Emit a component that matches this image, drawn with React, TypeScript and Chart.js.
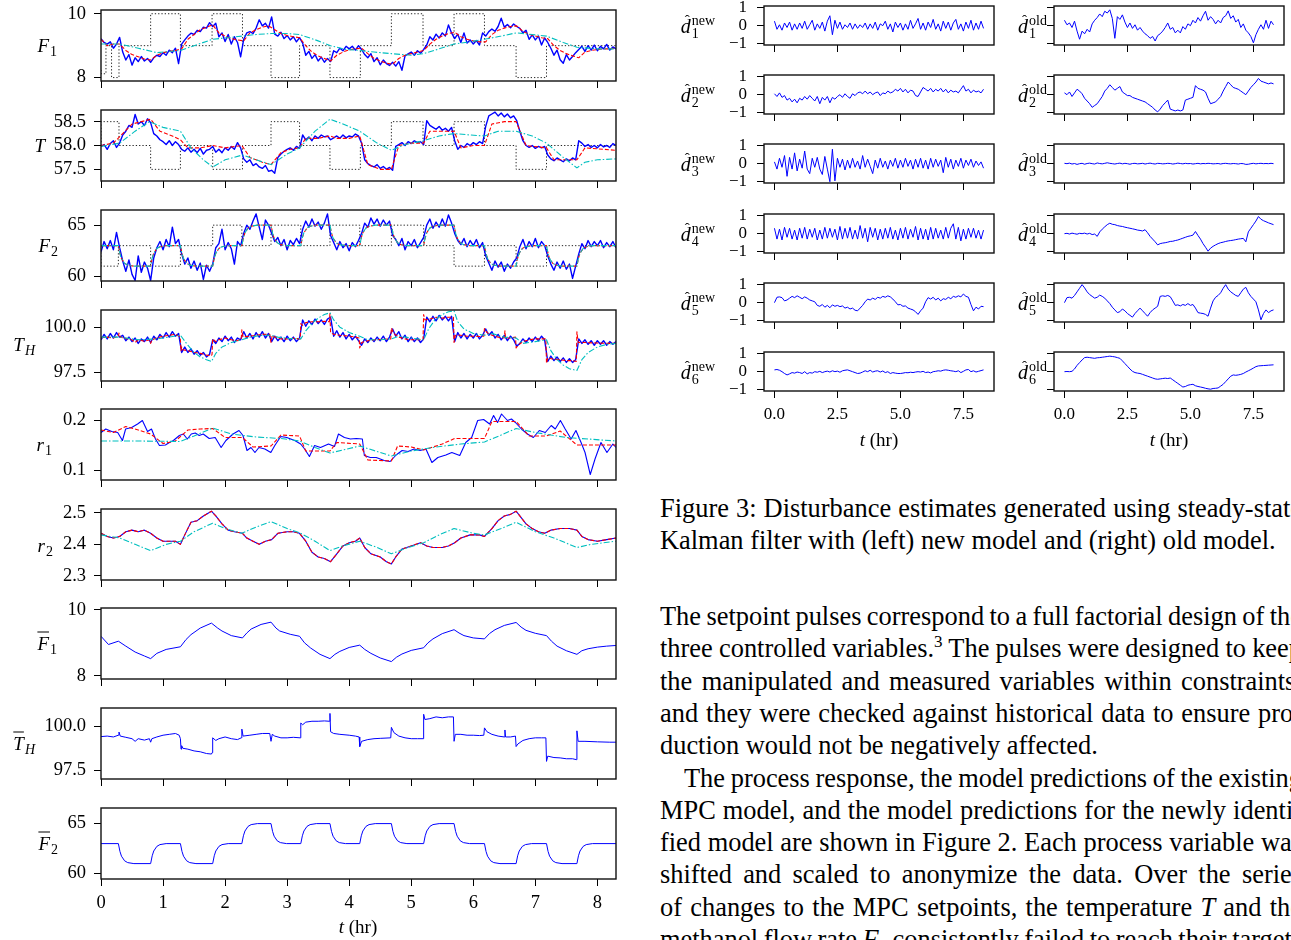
import React, { useEffect, useRef } from 'react';
import { Chart, registerables } from 'chart.js';
Chart.register(...registerables);

const SERIF = "'Liberation Serif', 'Times New Roman', serif";
const BLUE = '#0000ff';
const RED = '#ff0000';
const CYAN = '#00bfbf';

// sampling times (hours)
const T05 = Array.from({ length: 167 }, (_, i) => Math.round(i * 5) / 100);
const T10 = Array.from({ length: 84 }, (_, i) => Math.round(i * 10) / 100);

// ---------- left column data ----------
const F1_MEAS = [
  9.22,9.10,9.05,9.12,8.92,9.05,9.26,8.80,8.55,8.72,8.39,8.62,8.50,8.66,8.52,8.60,8.48,8.62,8.70,8.66,
  8.78,8.70,8.86,8.78,8.92,8.44,9.05,9.18,9.30,9.39,9.35,9.48,9.44,9.58,9.55,9.72,9.60,9.70,9.28,9.40,
  9.13,9.35,9.05,9.28,9.10,8.65,9.20,9.40,9.44,9.38,9.55,9.81,9.62,9.70,9.55,9.90,9.36,9.30,9.42,9.22,
  9.32,9.18,9.28,9.12,9.25,9.08,8.70,8.82,8.60,8.72,8.52,8.64,8.48,8.60,8.50,8.84,8.78,8.92,8.84,8.98,
  8.90,8.98,8.86,9.00,8.88,8.72,8.62,8.75,8.50,8.62,8.40,8.55,8.44,8.38,8.48,8.36,8.50,8.23,8.68,8.74,
  8.80,8.70,8.84,8.76,8.88,9.02,9.28,9.18,9.36,9.24,9.40,9.30,9.65,9.40,9.22,9.36,9.10,9.40,9.08,9.18,
  9.05,9.16,9.02,9.40,9.30,9.44,9.52,9.45,9.60,9.86,9.58,9.66,9.56,9.68,9.60,9.54,9.40,9.48,9.20,9.34,
  9.18,9.30,9.02,9.24,9.10,8.92,8.70,8.86,8.56,8.45,8.72,8.55,8.66,8.78,8.88,8.98,8.82,9.00,8.86,9.02,
  8.84,8.98,8.90,9.04,8.86,8.96,8.90,
];
const F1_NEW = [
  9.2,9.0,9.05,9.05,8.85,8.72,8.65,8.58,8.55,8.7,
  8.78,8.82,8.85,8.9,9.2,9.35,9.5,9.58,9.65,9.4,
  9.3,9.22,9.18,9.15,9.4,9.5,9.58,9.62,9.5,9.38,
  9.32,9.28,9.25,9.0,8.8,8.68,8.6,8.52,8.7,8.8,
  8.87,8.9,8.92,8.75,8.6,8.52,8.45,8.42,8.6,8.7,
  8.75,8.8,8.85,9.05,9.2,9.3,9.38,9.42,9.28,9.2,
  9.15,9.12,9.12,9.35,9.48,9.55,9.6,9.62,9.45,9.35,
  9.3,9.25,9.22,9.0,8.85,8.75,8.68,8.62,8.8,8.85,
  8.88,8.9,8.9,8.92,
];
const F1_OLD = [[0,9.05],[0.3,9.05],[0.6,8.92],[0.9,8.78],[1.28,8.85],[1.5,9.0],[1.8,9.2],[2.05,9.25],[2.28,9.3],[2.5,9.35],[2.74,9.38],[3.0,9.38],[3.2,9.35],[3.5,9.15],[3.7,9.0],[3.95,8.88],[4.17,8.85],[4.4,8.8],[4.68,8.75],[5.0,8.7],[5.2,8.75],[5.45,8.9],[5.69,9.05],[5.95,9.12],[6.18,9.2],[6.45,9.3],[6.69,9.4],[6.95,9.35],[7.18,9.3],[7.45,9.1],[7.67,8.95],[8.0,8.9],[8.3,8.9]];
const F1_SP = [[0,8.24],[0.08,8.12],[0.17,9.0],[0.29,8.0],[0.8,9.0],[1.28,10],[1.79,9],[2.28,10],[2.74,9],[3.2,8],[3.69,9],[4.18,8],[4.68,9],[5.19,10],[5.69,9],[6.18,10],[6.69,9],[7.18,8],[7.67,9],[8.3,9]];

const T_MEAS = [
  57.98,58.02,57.92,58.04,58.10,57.96,58.05,58.22,58.30,58.42,58.38,58.65,58.45,58.50,58.42,58.56,58.48,58.25,58.20,58.12,
  58.08,58.02,58.10,58.00,58.08,58.02,57.92,57.88,57.95,57.86,57.92,57.85,57.94,57.82,57.90,57.92,57.98,57.86,57.92,57.85,
  57.95,57.90,57.98,57.92,58.06,57.95,57.72,57.65,57.70,57.58,57.62,57.55,57.52,57.58,57.46,57.48,57.42,57.75,57.82,57.88,
  57.92,57.95,57.90,57.98,57.94,58.22,58.12,58.18,58.10,58.20,58.15,58.22,58.18,58.20,58.12,58.16,58.20,58.15,58.22,58.16,
  58.20,58.18,58.24,58.20,58.05,57.70,57.62,57.58,57.55,57.60,57.52,57.56,57.50,57.54,57.48,57.98,58.02,58.06,58.00,58.08,
  58.04,58.10,58.06,58.08,58.02,58.52,58.42,58.38,58.34,58.40,58.32,58.36,58.30,58.38,58.10,57.92,58.00,57.96,58.04,58.00,
  58.06,58.02,58.08,58.04,58.40,58.62,58.66,58.70,58.62,58.68,58.60,58.66,58.58,58.62,58.52,58.30,58.10,58.00,57.96,58.00,
  57.94,57.98,57.95,57.98,57.80,57.72,57.68,57.74,57.70,57.66,57.72,57.68,57.74,57.70,58.10,58.05,57.98,58.02,57.96,58.00,
  57.95,58.02,57.97,58.00,57.96,58.04,58.00,
];
const T_NEW = [[0,58.0],[0.2,58.05],[0.35,58.25],[0.5,58.45],[0.65,58.5],[0.8,58.55],[0.95,58.3],[1.15,58.2],[1.28,58.12],[1.4,57.95],[1.6,57.95],[1.8,58.0],[2.0,57.95],[2.27,58.0],[2.4,57.75],[2.6,57.65],[2.74,57.6],[2.9,57.85],[3.05,57.92],[3.2,57.95],[3.3,58.15],[3.5,58.15],[3.69,58.2],[3.8,58.15],[4.0,58.15],[4.17,58.2],[4.3,57.6],[4.5,57.5],[4.68,57.5],[4.8,58.0],[5.0,58.05],[5.2,58.05],[5.3,58.3],[5.5,58.3],[5.69,58.3],[5.8,57.95],[6.0,58.0],[6.18,58.0],[6.3,58.45],[6.5,58.5],[6.69,58.5],[6.85,58.0],[7.18,57.95],[7.3,57.7],[7.67,57.7],[7.8,57.95],[8.3,57.9]];
const T_OLD = [[0,57.98],[0.3,58.05],[0.55,58.3],[0.78,58.5],[1.0,58.38],[1.28,58.3],[1.45,57.95],[1.65,57.7],[1.8,57.55],[2.0,57.7],[2.28,57.8],[2.5,57.7],[2.74,57.6],[3.0,57.82],[3.2,57.95],[3.45,58.3],[3.69,58.55],[3.9,58.45],[4.17,58.3],[4.45,58.05],[4.68,57.9],[4.9,58.02],[5.2,58.1],[5.45,58.2],[5.69,58.25],[5.95,58.22],[6.18,58.2],[6.4,58.3],[6.69,58.3],[6.95,58.2],[7.18,58.05],[7.45,57.75],[7.67,57.53],[7.8,57.65],[8.0,57.7],[8.3,57.72]];
const T_SP = [[0,58],[0.29,58.5],[0.8,58],[1.28,57.5],[1.8,58],[2.28,57.5],[2.74,58],[3.2,58.5],[3.69,58],[4.18,57.5],[4.68,58],[5.19,58.5],[5.69,58],[6.18,58.5],[6.69,58],[7.18,57.5],[7.67,58],[8.3,58]];

const F2_MEAS = [
  62.4,63.4,62.7,63.5,62.6,64.3,62.8,61.5,60.5,61.6,60.2,59.6,62.0,60.4,61.4,60.8,59.6,61.8,62.8,63.4,
  62.6,63.6,62.9,64.8,63.2,63.6,62.2,61.2,61.8,60.8,61.5,60.6,61.3,59.7,61.1,60.5,61.2,62.8,63.2,64.6,
  62.6,63.3,62.7,61.2,63.4,63.0,64.2,65.0,64.6,65.4,66.1,64.8,63.6,65.5,65.0,64.2,63.4,63.8,63.0,63.6,
  62.6,63.5,63.1,63.7,63.2,64.6,65.4,64.8,65.6,64.9,65.3,64.6,65.2,66.1,64.0,63.3,62.6,63.4,62.8,63.2,
  62.5,63.3,62.9,63.5,64.2,65.2,64.8,65.7,65.1,65.6,64.9,65.5,65.0,65.4,64.0,63.6,63.0,63.7,62.6,63.4,
  63.0,63.6,62.8,63.3,63.8,65.0,65.6,64.7,65.3,64.8,65.6,64.9,66.0,65.2,64.2,63.5,63.1,63.7,62.9,63.5,
  63.0,63.6,62.8,63.3,62.0,61.3,60.6,61.5,60.9,61.4,60.5,61.2,60.8,61.4,61.8,62.9,63.6,62.7,63.4,62.9,
  63.7,62.8,63.4,63.0,62.0,61.2,60.6,61.4,60.8,61.5,60.7,61.2,59.8,61.0,62.2,63.2,62.7,63.5,62.9,63.4,
  63.0,63.5,62.8,63.3,62.9,63.4,62.8,
];
const F2_FILT = [
  [0,63],
  [0.28,63],[0.305,62.22],[0.33,61.74],[0.38,61.28],[0.43,61.1],[0.53,61],
  [0.8,61],[0.825,61.78],[0.85,62.26],[0.9,62.72],[0.95,62.9],[1.05,63],
  [1.28,63],[1.305,62.22],[1.33,61.74],[1.38,61.28],[1.43,61.1],[1.53,61],
  [1.8,61],[1.825,61.78],[1.85,62.26],[1.9,62.72],[1.95,62.9],[2.05,63],
  [2.27,63],[2.295,63.78],[2.32,64.26],[2.37,64.72],[2.42,64.9],[2.52,65],
  [2.74,65],[2.765,64.22],[2.79,63.74],[2.84,63.28],[2.89,63.1],[2.99,63],
  [3.22,63],[3.245,63.78],[3.27,64.26],[3.32,64.72],[3.37,64.9],[3.47,65],
  [3.69,65],[3.715,64.22],[3.74,63.74],[3.79,63.28],[3.84,63.1],[3.94,63],
  [4.17,63],[4.195,63.78],[4.22,64.26],[4.27,64.72],[4.32,64.9],[4.42,65],
  [4.68,65],[4.705,64.22],[4.73,63.74],[4.78,63.28],[4.83,63.1],[4.93,63],
  [5.2,63],[5.225,63.78],[5.25,64.26],[5.3,64.72],[5.35,64.9],[5.45,65],
  [5.69,65],[5.715,64.22],[5.74,63.74],[5.79,63.28],[5.84,63.1],[5.94,63],
  [6.18,63],[6.205,62.22],[6.23,61.74],[6.28,61.28],[6.33,61.1],[6.43,61],
  [6.69,61],[6.715,61.78],[6.74,62.26],[6.79,62.72],[6.84,62.9],[6.94,63],
  [7.18,63],[7.205,62.22],[7.23,61.74],[7.28,61.28],[7.33,61.1],[7.43,61],
  [7.67,61],[7.695,61.78],[7.72,62.26],[7.77,62.72],[7.82,62.9],[7.92,63],
  [8.3,63],
];
const F2_SP = [[0,63],[0.28,61],[0.8,63],[1.28,61],[1.8,63],[2.27,65],[2.74,63],[3.22,65],[3.69,63],[4.17,65],[4.68,63],[5.2,65],[5.69,63],[6.18,61],[6.69,63],[7.18,61],[7.67,63],[8.3,63]];

const TH_MEAS = [
  99.30,99.60,99.35,99.65,99.40,99.70,99.45,99.55,99.25,99.45,99.20,99.40,99.10,99.35,99.20,99.45,99.15,99.50,99.30,99.60,
  99.40,99.70,99.45,99.75,99.50,99.65,98.60,98.90,98.60,98.80,98.50,98.70,98.45,98.60,98.35,98.50,99.30,99.10,99.40,99.20,
  99.50,99.25,99.45,99.15,99.40,99.30,99.75,99.40,99.65,99.35,99.70,99.45,99.75,99.40,99.65,99.20,99.50,99.25,99.45,99.20,
  99.50,99.25,99.45,99.20,99.40,100.40,100.05,100.35,100.15,100.45,100.20,100.40,100.15,100.45,100.55,99.50,99.80,99.45,99.70,99.35,
  99.60,99.30,99.50,99.25,99.00,99.35,99.15,99.40,99.20,99.45,99.25,99.50,99.20,99.45,99.90,99.50,99.75,99.35,99.55,99.20,
  99.45,99.20,99.40,99.15,99.35,100.55,100.30,100.60,100.35,100.65,100.40,100.60,100.35,100.60,99.20,99.70,99.40,99.65,99.35,99.60,
  99.40,99.65,99.35,99.55,99.90,99.55,99.75,99.40,99.60,99.30,99.55,99.25,99.50,99.30,98.95,99.10,99.35,99.15,99.40,99.20,
  99.45,99.25,99.50,99.30,98.10,98.40,98.15,98.35,98.10,98.30,98.05,98.25,98.05,98.20,99.35,99.10,99.30,99.05,99.25,99.00,
  99.25,99.05,99.25,99.00,99.20,99.05,99.20,
];
// filtered TH (used for the new-model prediction and the input panel)
const TH_FILT = [[0,99.42],[0.1,99.45],[0.2,99.4],[0.28,99.5],[0.29,99.68],[0.31,99.45],[0.4,99.38],[0.5,99.3],[0.55,99.15],[0.6,99.3],[0.7,99.22],[0.78,99.3],[0.8,99.1],[0.82,99.3],[0.9,99.4],[1.0,99.5],[1.1,99.55],[1.2,99.6],[1.26,99.5],[1.28,99.3],[1.29,98.7],[1.3,98.9],[1.32,98.75],[1.4,98.7],[1.5,98.6],[1.6,98.55],[1.7,98.45],[1.78,98.42],[1.79,98.5],[1.8,99.35],[1.85,99.2],[1.9,99.3],[2.0,99.4],[2.1,99.3],[2.2,99.25],[2.26,99.35],[2.27,99.85],[2.29,99.45],[2.4,99.5],[2.5,99.55],[2.6,99.6],[2.72,99.6],[2.74,99.15],[2.76,99.55],[2.8,99.45],[2.9,99.35],[3.0,99.35],[3.1,99.38],[3.21,99.35],[3.22,100.2],[3.25,100.1],[3.3,100.25],[3.4,100.3],[3.5,100.3],[3.6,100.32],[3.68,100.3],[3.69,100.75],[3.7,99.7],[3.75,99.6],[3.85,99.55],[4.0,99.5],[4.1,99.45],[4.16,99.4],[4.17,98.85],[4.2,99.15],[4.3,99.25],[4.4,99.3],[4.5,99.32],[4.67,99.35],[4.68,99.95],[4.72,99.65],[4.8,99.45],[4.9,99.35],[5.0,99.3],[5.1,99.3],[5.19,99.3],[5.2,100.7],[5.22,100.4],[5.3,100.45],[5.4,100.55],[5.5,100.5],[5.6,100.55],[5.68,100.55],[5.69,99.15],[5.71,99.55],[5.8,99.55],[5.9,99.5],[6.0,99.5],[6.1,99.48],[6.17,99.5],[6.18,99.92],[6.22,99.7],[6.3,99.55],[6.4,99.45],[6.5,99.4],[6.51,99.8],[6.52,99.4],[6.6,99.4],[6.68,99.45],[6.69,98.85],[6.72,99.0],[6.8,99.2],[6.9,99.3],[7.0,99.35],[7.1,99.35],[7.17,99.35],[7.18,98.0],[7.2,98.3],[7.3,98.22],[7.4,98.2],[7.5,98.15],[7.6,98.15],[7.66,98.1],[7.67,99.75],[7.69,99.15],[7.8,99.15],[8.0,99.12],[8.2,99.1],[8.3,99.1]];
const TH_OLD = [[0,99.45],[0.3,99.45],[0.6,99.3],[0.9,99.35],[1.28,99.55],[1.4,99.0],[1.5,98.6],[1.6,98.35],[1.7,98.2],[1.78,98.1],[1.85,98.55],[1.95,98.9],[2.1,99.15],[2.27,99.3],[2.4,99.45],[2.6,99.55],[2.74,99.55],[2.85,99.45],[3.0,99.38],[3.22,99.35],[3.3,99.8],[3.4,100.2],[3.5,100.5],[3.6,100.7],[3.69,100.8],[3.75,100.4],[3.85,100.0],[4.0,99.7],[4.17,99.5],[4.3,99.3],[4.5,99.3],[4.68,99.35],[4.8,99.5],[5.0,99.4],[5.2,99.3],[5.28,99.9],[5.38,100.4],[5.5,100.7],[5.6,100.85],[5.69,100.9],[5.75,100.3],[5.85,99.9],[6.0,99.65],[6.18,99.55],[6.3,99.65],[6.5,99.45],[6.69,99.4],[6.8,99.1],[7.0,99.2],[7.18,99.3],[7.25,98.7],[7.35,98.2],[7.45,97.9],[7.55,97.7],[7.67,97.6],[7.75,98.2],[7.85,98.6],[8.0,98.9],[8.15,99.05],[8.3,99.1]];

const R1_MEAS = [[0,0.175],[0.077,0.182],[0.173,0.177],[0.269,0.175],[0.346,0.159],[0.397,0.182],[0.494,0.185],[0.59,0.192],[0.667,0.199],[0.75,0.177],[0.814,0.182],[0.878,0.162],[0.942,0.149],[1.038,0.15],[1.103,0.155],[1.167,0.159],[1.263,0.169],[1.327,0.172],[1.391,0.162],[1.455,0.172],[1.519,0.174],[1.583,0.169],[1.647,0.172],[1.744,0.163],[1.84,0.165],[1.936,0.145],[2.013,0.159],[2.128,0.172],[2.224,0.179],[2.288,0.169],[2.353,0.139],[2.417,0.145],[2.481,0.135],[2.545,0.145],[2.641,0.142],[2.737,0.135],[2.801,0.149],[2.897,0.167],[2.994,0.165],[3.122,0.159],[3.218,0.152],[3.282,0.142],[3.359,0.127],[3.442,0.149],[3.538,0.145],[3.667,0.152],[3.763,0.147],[3.827,0.172],[3.923,0.165],[4.019,0.162],[4.115,0.163],[4.212,0.162],[4.244,0.129],[4.34,0.125],[4.436,0.125],[4.564,0.119],[4.66,0.117],[4.756,0.13],[4.853,0.139],[4.949,0.137],[5.045,0.142],[5.141,0.139],[5.237,0.142],[5.333,0.115],[5.429,0.125],[5.558,0.13],[5.654,0.135],[5.782,0.129],[5.878,0.155],[5.974,0.165],[6.071,0.199],[6.167,0.201],[6.263,0.192],[6.327,0.209],[6.391,0.195],[6.455,0.212],[6.551,0.199],[6.615,0.202],[6.679,0.195],[6.776,0.182],[6.872,0.172],[6.968,0.165],[7.064,0.179],[7.16,0.175],[7.256,0.189],[7.321,0.182],[7.404,0.199],[7.481,0.182],[7.577,0.162],[7.654,0.179],[7.737,0.155],[7.801,0.135],[7.885,0.091],[7.962,0.122],[8.058,0.155],[8.154,0.135],[8.25,0.152],[8.3,0.145]];
const R1_NEW = [[0,0.18],[0.2,0.175],[0.4,0.187],[0.6,0.18],[0.8,0.172],[1.0,0.153],[1.2,0.158],[1.4,0.18],[1.6,0.182],[1.8,0.183],[2.0,0.165],[2.28,0.165],[2.45,0.146],[2.74,0.148],[2.9,0.17],[3.2,0.168],[3.3,0.138],[3.69,0.138],[3.8,0.155],[4.17,0.152],[4.3,0.12],[4.68,0.118],[4.78,0.148],[5.0,0.146],[5.2,0.14],[5.5,0.152],[5.7,0.163],[6.18,0.163],[6.3,0.197],[6.69,0.197],[6.9,0.168],[7.18,0.168],[7.4,0.178],[7.67,0.15],[8.3,0.15]];
const R1_OLD = [[0,0.158],[0.6,0.158],[1.28,0.157],[1.5,0.168],[1.8,0.184],[2.1,0.172],[2.5,0.166],[2.9,0.163],[3.2,0.158],[3.45,0.145],[3.69,0.134],[3.9,0.14],[4.17,0.148],[4.45,0.137],[4.68,0.128],[5.0,0.138],[5.4,0.146],[5.8,0.152],[6.18,0.156],[6.45,0.17],[6.69,0.183],[7.0,0.175],[7.5,0.165],[8.3,0.158]];

const R2_MEAS = [[0,2.435],[0.1,2.425],[0.2,2.42],[0.3,2.425],[0.4,2.44],[0.5,2.445],[0.6,2.44],[0.7,2.445],[0.8,2.435],[0.9,2.42],[1.0,2.41],[1.1,2.41],[1.2,2.41],[1.28,2.4],[1.35,2.43],[1.45,2.47],[1.55,2.475],[1.65,2.49],[1.78,2.505],[1.85,2.49],[1.95,2.465],[2.05,2.445],[2.15,2.44],[2.28,2.435],[2.35,2.42],[2.45,2.41],[2.55,2.4],[2.65,2.41],[2.75,2.415],[2.85,2.435],[3.0,2.44],[3.1,2.44],[3.2,2.435],[3.3,2.41],[3.4,2.375],[3.5,2.36],[3.6,2.355],[3.7,2.345],[3.8,2.37],[3.9,2.395],[4.0,2.405],[4.1,2.41],[4.17,2.42],[4.25,2.39],[4.35,2.37],[4.5,2.36],[4.6,2.345],[4.68,2.338],[4.75,2.36],[4.85,2.385],[5.0,2.395],[5.15,2.405],[5.25,2.395],[5.35,2.39],[5.5,2.39],[5.6,2.395],[5.7,2.405],[5.8,2.42],[5.95,2.43],[6.1,2.43],[6.18,2.425],[6.3,2.45],[6.4,2.475],[6.5,2.49],[6.6,2.495],[6.69,2.505],[6.75,2.49],[6.85,2.465],[6.95,2.45],[7.05,2.44],[7.15,2.435],[7.25,2.445],[7.4,2.45],[7.55,2.45],[7.67,2.445],[7.75,2.425],[7.85,2.415],[8.0,2.41],[8.15,2.415],[8.3,2.42]];
const R2_OLD = [[0,2.43],[0.3,2.42],[0.55,2.4],[0.8,2.38],[1.05,2.4],[1.28,2.41],[1.5,2.44],[1.8,2.467],[2.0,2.45],[2.27,2.435],[2.5,2.455],[2.74,2.472],[3.0,2.45],[3.2,2.437],[3.45,2.41],[3.69,2.38],[3.9,2.395],[4.17,2.41],[4.45,2.39],[4.68,2.37],[4.95,2.39],[5.2,2.405],[5.45,2.43],[5.69,2.45],[6.0,2.435],[6.18,2.43],[6.45,2.45],[6.69,2.47],[7.0,2.44],[7.3,2.42],[7.67,2.39],[7.9,2.4],[8.3,2.41]];

const F1_BAR = [[0,9.2],[0.12,8.95],[0.28,9.05],[0.4,8.9],[0.55,8.72],[0.7,8.6],[0.8,8.52],[0.9,8.68],[1.05,8.8],[1.28,8.88],[1.37,9.1],[1.45,9.25],[1.6,9.45],[1.78,9.6],[1.88,9.45],[1.95,9.36],[2.1,9.22],[2.28,9.15],[2.35,9.3],[2.42,9.42],[2.58,9.56],[2.74,9.63],[2.82,9.45],[2.88,9.36],[3.05,9.26],[3.2,9.2],[3.28,9.0],[3.38,8.84],[3.53,8.65],[3.69,8.52],[3.77,8.65],[3.85,8.74],[4.0,8.86],[4.17,8.93],[4.25,8.8],[4.35,8.68],[4.5,8.54],[4.68,8.43],[4.76,8.56],[4.85,8.66],[5.0,8.77],[5.2,8.85],[5.27,9.0],[5.35,9.12],[5.5,9.28],[5.69,9.4],[5.77,9.3],[5.85,9.22],[6.0,9.15],[6.18,9.12],[6.26,9.28],[6.35,9.4],[6.5,9.53],[6.69,9.62],[6.77,9.48],[6.85,9.38],[7.0,9.29],[7.18,9.22],[7.26,9.05],[7.35,8.9],[7.5,8.76],[7.67,8.65],[7.75,8.76],[7.85,8.82],[8.0,8.87],[8.15,8.9],[8.3,8.92]];

// ---------- right grid data (disturbance estimates, dt = 0.1 hr) ----------
const D1_NEW = [
  0.25,-0.2,0.05,-0.25,0.15,-0.1,0.2,-0.25,0.1,-0.2,
  0.15,-0.15,0.25,-0.2,0.05,0.3,-0.25,0.1,-0.15,0.2,
  -0.3,0.25,0.55,-0.5,0.3,-0.15,0.2,-0.2,0.05,-0.1,
  0.15,-0.2,0.1,-0.15,0.05,-0.1,0.15,-0.2,0.1,-0.15,
  0.2,-0.25,0.1,0.0,0.25,-0.2,0.1,-0.35,0.2,-0.1,
  0.15,-0.25,0.1,-0.2,0.3,-0.15,0.1,0.4,-0.2,0.15,
  -0.25,0.2,-0.1,0.35,-0.2,0.1,-0.3,0.25,-0.15,0.2,
  -0.25,0.15,0.35,-0.2,0.1,-0.3,0.2,-0.15,0.3,-0.25,
  0.15,-0.2,0.25,-0.15,
];
const D1_OLD = [
  0.3,0.05,0.15,-0.1,0.25,-0.3,-0.75,-0.3,-0.45,-0.2,
  -0.35,0.1,0.3,0.45,0.65,0.5,0.8,0.7,0.88,0.4,
  -0.7,0.5,0.35,0.6,0.2,-0.1,0.15,-0.15,0.05,-0.25,
  -0.1,-0.3,-0.45,-0.55,-0.7,-0.6,-0.85,-0.55,-0.45,-0.3,
  -0.1,0.15,-0.2,-0.1,-0.4,-0.25,-0.4,-0.05,-0.2,0.1,
  0.0,0.3,0.15,0.45,0.25,0.55,0.8,0.3,0.5,0.35,
  0.1,0.3,0.15,0.45,0.55,0.82,0.4,0.55,0.2,0.35,
  -0.1,0.1,-0.25,-0.4,-0.6,-0.95,-0.5,-0.2,0.05,-0.2,
  0.3,-0.15,0.25,0.05,
];
const D2_NEW = [
  0.05,-0.1,0.1,-0.15,-0.05,-0.3,-0.2,-0.4,-0.25,-0.45,
  -0.2,-0.3,-0.1,-0.25,-0.05,-0.2,-0.35,-0.1,-0.5,-0.15,
  -0.3,-0.1,-0.45,-0.15,-0.25,-0.1,0.0,-0.15,0.05,-0.1,
  -0.2,0.05,-0.05,0.1,0.15,0.05,0.2,0.05,0.15,0.0,
  0.1,0.15,-0.05,0.1,0.05,0.2,0.1,0.15,0.3,0.2,
  0.35,0.15,0.3,0.1,0.25,0.2,-0.05,-0.1,0.15,0.4,
  0.3,0.2,0.35,0.15,0.3,0.2,0.35,0.15,0.3,0.1,
  0.25,0.15,0.2,0.1,0.3,0.5,0.2,0.3,0.1,0.25,
  0.15,0.2,0.1,0.3,
];
const D2_OLD = [
  0.1,0.0,0.15,-0.1,0.1,0.3,0.2,0.05,-0.2,-0.35,
  -0.5,-0.7,-0.6,-0.5,-0.3,-0.1,0.2,0.35,0.55,0.4,
  0.25,0.35,0.45,0.15,0.05,-0.05,-0.05,-0.15,-0.2,-0.25,
  -0.3,-0.35,-0.4,-0.5,-0.6,-0.7,-0.85,-0.95,-0.8,-0.6,
  -0.45,-0.3,-0.8,-0.85,-0.9,-0.85,-0.9,-0.85,-0.3,-0.25,
  -0.2,-0.15,0.5,0.35,0.3,0.25,0.15,-0.2,-0.5,-0.45,
  -0.4,-0.25,-0.1,0.2,0.45,0.7,0.55,0.4,0.35,0.3,
  0.2,0.1,0.0,0.2,0.4,0.55,0.7,0.9,0.75,0.7,
  0.65,0.6,0.65,0.6,
];
const D3_NEW = [
  0.1,-0.3,0.3,-0.2,0.45,-0.7,0.35,-0.3,0.6,-0.4,
  0.25,-0.25,0.7,-0.3,-0.55,0.3,-0.2,0.35,-0.3,-0.6,
  0.4,-0.3,-1.0,0.8,-0.95,0.3,-0.2,0.25,-0.35,0.2,
  -0.25,0.3,-0.2,0.15,-0.3,0.45,-0.2,0.25,-0.15,-0.55,
  0.2,-0.25,0.3,-0.2,0.15,-0.3,0.2,-0.15,0.3,-0.25,
  0.2,-0.2,0.3,-0.15,0.2,-0.3,0.25,-0.2,0.3,-0.25,
  0.2,-0.3,0.3,-0.2,0.25,-0.15,0.2,-0.5,0.35,-0.2,
  0.25,-0.3,0.2,-0.15,0.3,-0.25,0.2,-0.1,0.25,-0.2,
  0.15,-0.1,0.1,-0.25,
];
const D3_OLD = [
  0.02,0.0,0.03,-0.02,0.01,-0.04,0.0,0.02,-0.03,0.01,
  0.03,0.0,-0.02,0.04,0.01,-0.01,0.02,0.05,0.02,0.0,
  -0.02,0.01,0.03,-0.01,0.02,0.0,-0.03,0.01,0.02,-0.01,
  0.0,0.02,-0.02,0.01,0.03,0.0,-0.02,0.02,0.01,-0.01,
  0.0,0.02,0.01,-0.02,0.0,0.03,0.01,-0.01,0.02,0.0,
  0.01,-0.02,0.0,0.02,-0.01,0.01,0.0,0.02,0.01,-0.01,
  0.0,0.01,-0.02,0.01,0.02,0.0,-0.01,0.01,0.0,-0.02,
  0.01,0.0,-0.04,-0.03,0.0,0.02,-0.01,0.01,0.02,0.0,
  0.01,0.0,0.02,0.0,
];
const D4_NEW = [
  0.3,-0.3,0.25,-0.35,0.35,-0.2,0.3,-0.3,0.2,-0.35,
  0.3,-0.25,0.35,-0.3,0.25,-0.2,0.3,-0.35,0.2,-0.3,
  0.35,-0.25,0.3,-0.2,0.25,-0.35,0.4,-0.3,0.3,-0.25,
  0.35,-0.3,0.2,-0.3,0.45,-0.25,0.3,-0.45,0.35,-0.2,
  0.3,-0.35,0.25,-0.3,0.3,-0.25,0.35,-0.3,0.2,-0.35,
  0.3,-0.25,0.35,-0.3,0.25,-0.2,0.4,-0.35,0.3,-0.3,
  0.25,-0.35,0.35,-0.3,0.3,-0.25,0.2,-0.3,0.35,-0.25,
  0.3,0.55,-0.3,0.35,-0.4,0.25,-0.3,0.3,-0.2,0.3,
  -0.25,0.2,-0.3,0.2,
];
const D4_OLD = [
  0.0,0.02,-0.02,0.03,0.0,-0.03,0.02,0.0,0.03,-0.02,
  0.02,-0.05,-0.02,-0.15,0.1,0.25,0.38,0.5,0.58,0.52,
  0.5,0.45,0.42,0.4,0.36,0.33,0.3,0.27,0.24,0.2,
  0.18,0.15,0.22,0.05,-0.15,-0.3,-0.45,-0.62,-0.55,-0.52,
  -0.5,-0.47,-0.43,-0.42,-0.38,-0.35,-0.3,-0.25,-0.2,-0.15,
  -0.12,-0.08,0.12,-0.1,-0.3,-0.55,-0.75,-0.97,-0.8,-0.7,
  -0.62,-0.55,-0.5,-0.47,-0.43,-0.4,-0.38,-0.36,-0.33,-0.3,
  -0.28,-0.26,-0.45,0.1,0.3,0.5,0.7,0.95,0.8,0.72,
  0.66,0.6,0.55,0.5,
];
const D5_NEW = [
  0.0,0.3,0.32,0.28,0.1,0.15,0.25,0.35,0.28,0.38,
  0.3,0.22,0.32,0.25,0.15,0.1,0.05,-0.15,-0.2,-0.1,
  -0.25,-0.15,-0.28,-0.12,-0.2,-0.15,-0.22,-0.18,-0.3,-0.25,
  -0.35,-0.3,-0.42,-0.45,-0.3,-0.15,0.05,0.2,0.15,0.25,
  0.18,0.3,0.25,0.35,0.3,0.38,0.32,0.2,0.05,-0.12,
  -0.1,-0.2,-0.18,-0.3,-0.35,-0.4,-0.5,-0.65,-0.45,-0.3,
  0.05,0.28,0.2,0.3,0.15,0.25,0.1,0.22,0.18,0.3,
  0.22,0.35,0.3,0.38,0.32,0.48,0.35,0.3,-0.1,-0.45,
  -0.25,-0.35,-0.2,-0.22,
];
const D5_OLD = [
  0.0,0.28,0.3,0.25,0.4,0.6,0.8,1.0,0.82,0.6,
  0.45,0.35,0.25,0.3,0.42,0.35,0.25,0.1,-0.05,-0.25,
  -0.4,-0.55,-0.5,-0.35,-0.45,-0.6,-0.7,-0.8,-0.6,-0.45,
  -0.3,-0.45,-0.6,-0.75,-0.55,-0.4,-0.3,-0.2,0.35,0.38,
  0.35,0.4,0.33,0.1,-0.15,-0.12,-0.18,-0.1,-0.15,-0.05,
  -0.15,-0.1,-0.3,-0.55,-0.58,-0.6,-0.65,-0.75,-0.3,0.1,
  0.3,0.4,0.55,0.8,1.0,0.75,0.6,0.5,0.4,0.35,
  0.55,0.75,0.85,0.55,0.35,0.2,0.05,-0.4,-0.95,-0.6,
  -0.4,-0.55,-0.45,-0.4,
];
const D6_NEW = [
  0.1,0.12,0.08,0.0,-0.1,-0.18,-0.12,-0.05,-0.08,-0.02,
  -0.05,-0.1,0.0,-0.12,-0.05,-0.08,0.0,-0.03,0.02,-0.05,
  0.0,0.03,-0.02,0.05,0.0,0.03,-0.03,0.05,0.08,0.1,
  0.05,0.0,-0.05,-0.1,-0.08,-0.02,0.05,0.0,0.08,-0.02,
  0.03,0.05,-0.02,0.04,-0.05,0.0,-0.1,-0.05,-0.08,-0.1,
  -0.1,-0.08,-0.05,-0.06,-0.03,-0.05,-0.02,0.0,-0.02,0.02,
  -0.05,-0.02,-0.07,0.0,0.02,0.05,0.03,0.08,0.1,0.08,
  0.05,0.03,0.0,0.05,-0.05,0.02,0.1,0.12,0.0,0.05,
  -0.02,0.02,0.06,0.1,
];
const D6_OLD = [
  0.0,0.01,0.0,0.02,0.15,0.35,0.5,0.65,0.78,0.8,
  0.78,0.76,0.74,0.77,0.78,0.8,0.82,0.84,0.86,0.84,
  0.82,0.78,0.74,0.6,0.45,0.3,0.15,0.02,-0.05,-0.08,
  -0.1,-0.15,-0.2,-0.25,-0.3,-0.35,-0.4,-0.42,-0.4,-0.38,
  -0.36,-0.38,-0.35,-0.45,-0.55,-0.65,-0.75,-0.85,-0.82,-0.75,
  -0.72,-0.7,-0.78,-0.82,-0.85,-0.88,-0.92,-0.95,-0.97,-0.93,
  -0.92,-0.9,-0.8,-0.7,-0.55,-0.4,-0.25,-0.18,-0.2,-0.18,
  -0.15,-0.1,-0.02,0.05,0.12,0.2,0.28,0.32,0.33,0.34,
  0.35,0.36,0.37,0.38,
];

// ticks
const LX_TICKS = [0, 1, 2, 3, 4, 5, 6, 7, 8];
const RX_TICKS = [0, 2.5, 5, 7.5];
const D_TICKS = [-1, 0, 1];

// ---------- helpers ----------
const xy = (ts: number[], vs: number[]) => vs.map((v, i) => ({ x: ts[i], y: v }));
const pr = (ps: number[][]) => ps.map(([x, y]) => ({ x, y }));
const fmt = (v: number, d: number) => {
  const s = Number(v).toFixed(d);
  return s.startsWith('-') ? '\u2212' + s.slice(1) : s;
};

const meas = (data: any, w = 1.4) => ({ data, color: BLUE, width: w });
const newm = (data: any) => ({ data, color: RED, width: 1.1, dash: [4, 2] });
const oldm = (data: any) => ({ data, color: CYAN, width: 1.1, dash: [6, 2, 1.5, 2] });
const setp = (data: any) => ({ data, color: 'rgba(0,0,0,0.85)', width: 1, dash: [1.3, 2], stepped: 'after' });

const L_LEFT = 101, L_W = 515, L_H = 71;
const LTOP = [10, 110, 210, 310, 409, 509, 608, 708, 808];
const R_LEFT = [764, 1054], R_W = 230, R_H = 39;
const RTOP = [6, 75, 144, 214, 283, 352];

type P = any;
const leftPanel = (i: number, yMin: number, yMax: number, yTicks: number[], yDec: number, sets: any[], last = false): P => ({
  left: L_LEFT, top: LTOP[i], w: L_W, h: L_H, yW: 70, ypad: 8,
  xMin: 0, xMax: 8.3, xTicks: LX_TICKS, xDec: 0, xLabels: last,
  yMin, yMax, yTicks, yDec, yLabels: true, sets, fs: 18.5,
});
const rightPanel = (row: number, col: number, data: number[]): P => ({
  left: R_LEFT[col], top: RTOP[row], w: R_W, h: R_H, yW: 50, ypad: 10,
  xMin: -0.415, xMax: 8.715, xTicks: RX_TICKS, xDec: 1, xLabels: row === 5,
  yMin: -1.07, yMax: 1.09, yTicks: D_TICKS, yDec: 0, yLabels: col === 0,
  sets: [meas(xy(T10, data), 1)], fs: 17,
});

const PANELS: P[] = [
  leftPanel(0, 7.893, 10.117, [8, 10], 0, [oldm(pr(F1_OLD)), newm(xy(T10, F1_NEW)), meas(xy(T05, F1_MEAS)), setp(pr(F1_SP))]),
  leftPanel(1, 57.256, 58.744, [57.5, 58.0, 58.5], 1, [oldm(pr(T_OLD)), newm(pr(T_NEW)), meas(xy(T05, T_MEAS)), setp(pr(T_SP))]),
  leftPanel(2, 59.55, 66.48, [60, 65], 0, [oldm(pr(F2_FILT)), newm(pr(F2_FILT)), meas(xy(T05, F2_MEAS)), setp(pr(F2_SP))]),
  leftPanel(3, 97.02, 100.95, [97.5, 100.0], 1, [oldm(pr(TH_OLD)), newm(pr(TH_FILT)), meas(xy(T05, TH_MEAS))]),
  leftPanel(4, 0.08, 0.222, [0.1, 0.2], 1, [oldm(pr(R1_OLD)), newm(pr(R1_NEW)), meas(pr(R1_MEAS), 1.1)]),
  leftPanel(5, 2.287, 2.512, [2.3, 2.4, 2.5], 1, [oldm(pr(R2_OLD)), newm(pr(R2_MEAS)), meas(pr(R2_MEAS), 1.1)]),
  leftPanel(6, 7.9, 10.06, [8, 10], 0, [meas(pr(F1_BAR), 1)]),
  leftPanel(7, 96.99, 101.06, [97.5, 100.0], 1, [meas(pr(TH_FILT), 1)]),
  leftPanel(8, 59.46, 66.56, [60, 65], 0, [meas(pr(F2_FILT), 1)], true),
  rightPanel(0, 0, D1_NEW), rightPanel(0, 1, D1_OLD),
  rightPanel(1, 0, D2_NEW), rightPanel(1, 1, D2_OLD),
  rightPanel(2, 0, D3_NEW), rightPanel(2, 1, D3_OLD),
  rightPanel(3, 0, D4_NEW), rightPanel(3, 1, D4_OLD),
  rightPanel(4, 0, D5_NEW), rightPanel(4, 1, D5_OLD),
  rightPanel(5, 0, D6_NEW), rightPanel(5, 1, D6_OLD),
];

const framePlugin = {
  id: 'frame',
  afterDraw(chart: any) {
    const { ctx, chartArea } = chart;
    const { left, top, right, bottom } = chartArea;
    ctx.save();
    ctx.strokeStyle = '#111';
    ctx.lineWidth = 1.4;
    ctx.strokeRect(left, top, right - left, bottom - top);
    ctx.restore();
  },
};

const axis = (min: number, max: number, ticks: number[], dec: number, show: boolean, fs: number, pad: number, fit: (s: any) => void) => ({
  type: 'linear',
  min, max,
  afterBuildTicks: (a: any) => { a.ticks = ticks.map((v) => ({ value: v })); },
  afterFit: fit,
  ticks: {
    display: show, color: '#000', font: { family: SERIF, size: fs }, padding: pad,
    autoSkip: false, maxRotation: 0, minRotation: 0,
    callback: (v: any) => fmt(v, dec),
  },
  grid: { display: true, drawOnChartArea: false, drawTicks: true, tickLength: 7, tickColor: '#000', tickWidth: 1 },
  border: { display: false },
});

function ChartPanel({ p }: { p: P }) {
  const ref = useRef<HTMLCanvasElement>(null);
  const PT = 26, PR = 5;
  const XH = p.xLabels ? 44 : 26;
  const cw = p.yW + p.w + PR;
  const ch = PT + p.h + XH;
  useEffect(() => {
    if (!ref.current) return;
    const c = new Chart(ref.current, {
      type: 'line',
      data: {
        datasets: p.sets.map((s: any) => ({
          data: s.data, borderColor: s.color, backgroundColor: s.color,
          borderWidth: s.width ?? 1, borderDash: s.dash ?? [], pointRadius: 0, pointHoverRadius: 0,
          fill: false, tension: 0, stepped: s.stepped ?? false, borderJoinStyle: 'round',
        })),
      },
      options: {
        responsive: false, maintainAspectRatio: false, animation: false, devicePixelRatio: 1, events: [],
        layout: { padding: { top: PT, right: PR, left: 0, bottom: 0 } },
        plugins: { legend: { display: false }, tooltip: { enabled: false }, title: { display: false } },
        scales: {
          x: axis(p.xMin, p.xMax, p.xTicks, p.xDec, p.xLabels, p.fs, 6, (s: any) => { s.height = XH; }),
          y: axis(p.yMin, p.yMax, p.yTicks, p.yDec, p.yLabels, p.fs, p.ypad, (s: any) => { s.width = p.yW; }),
        },
      } as any,
      plugins: [framePlugin],
    } as any);
    return () => c.destroy();
  }, []);
  return (
    <canvas ref={ref} width={cw} height={ch}
      style={{ position: 'absolute', left: p.left - p.yW, top: p.top - PT, width: cw, height: ch }} />
  );
}

// ---------- text helpers ----------
const Lab = ({ r, cy, children }: any) => (
  <div style={{ position: 'absolute', right: 1291 - r, top: cy, transform: 'translateY(-50%)', fontFamily: SERIF, fontSize: 19, lineHeight: 1, whiteSpace: 'nowrap', color: '#000' }}>{children}</div>
);
const Sb = ({ children, it }: any) => (
  <span style={{ fontSize: 14, position: 'relative', top: 4, fontStyle: it ? 'italic' : 'normal', marginLeft: 1 }}>{children}</span>
);
const Ov = ({ children }: any) => (
  <span style={{ fontStyle: 'italic', textDecoration: 'overline' }}>{children}</span>
);
const HatD = ({ sup, sub }: any) => (
  <span style={{ display: 'inline-flex', alignItems: 'center' }}>
    <span style={{ position: 'relative', fontStyle: 'italic', fontSize: 20, lineHeight: '20px' }}>
      d<span style={{ position: 'absolute', left: 4, top: -6, fontStyle: 'normal', fontSize: 15 }}>ˆ</span>
    </span>
    <span style={{ display: 'inline-flex', flexDirection: 'column', fontSize: 14, lineHeight: '13px', marginLeft: 1, marginTop: 2 }}>
      <span>{sup}</span><span>{sub}</span>
    </span>
  </span>
);
const XTitle = ({ cx, cy }: any) => (
  <div style={{ position: 'absolute', left: cx, top: cy, transform: 'translate(-50%, -50%)', fontFamily: SERIF, fontSize: 19, whiteSpace: 'nowrap' }}>
    <i>t</i> (hr)
  </div>
);

const TXT_FS = 26.4;
const Line = ({ cy, left = 660, just = true, children }: any) => (
  <div style={{
    position: 'absolute', left, top: cy - 16, width: 1302 - left, height: 32, overflow: 'hidden',
    fontFamily: SERIF, fontSize: TXT_FS, lineHeight: '32px', color: '#000',
    textAlign: just ? 'justify' : 'left', textAlignLast: just ? 'justify' : 'left', wordSpacing: just ? -2 : 0,
    whiteSpace: just ? 'normal' : 'nowrap',
  } as any}>{children}</div>
);

const R_LAB_NEW = 715, R_LAB_OLD = 1047;
const R_CY = RTOP.map((t) => t + R_H / 2);

export default function App() {
  return (
    <div style={{ position: 'fixed', left: 0, top: 0, width: 1291, height: 940, overflow: 'hidden', background: '#fff' }}>
      {PANELS.map((p, i) => <ChartPanel key={i} p={p} />)}

      <Lab r={57} cy={45}><i>F</i><Sb>1</Sb></Lab>
      <Lab r={45} cy={145}><i>T</i></Lab>
      <Lab r={58} cy={245}><i>F</i><Sb>2</Sb></Lab>
      <Lab r={35} cy={344}><i>T</i><Sb it>H</Sb></Lab>
      <Lab r={52} cy={444}><i>r</i><Sb>1</Sb></Lab>
      <Lab r={53} cy={545}><i>r</i><Sb>2</Sb></Lab>
      <Lab r={57} cy={643}><Ov>F</Ov><Sb>1</Sb></Lab>
      <Lab r={35} cy={743}><Ov>T</Ov><Sb it>H</Sb></Lab>
      <Lab r={58} cy={843}><Ov>F</Ov><Sb>2</Sb></Lab>

      {R_CY.map((cy, i) => (
        <React.Fragment key={i}>
          <Lab r={R_LAB_NEW} cy={cy}><HatD sup="new" sub={String(i + 1)} /></Lab>
          <Lab r={R_LAB_OLD} cy={cy}><HatD sup="old" sub={String(i + 1)} /></Lab>
        </React.Fragment>
      ))}

      <XTitle cx={358} cy={927} />
      <XTitle cx={879} cy={440} />
      <XTitle cx={1169} cy={440} />

      <Line cy={508}>Figure 3: Disturbance estimates generated using steady-state</Line>
      <Line cy={540} just={false}>Kalman filter with (left) new model and (right) old model.</Line>

      <Line cy={616}>The setpoint pulses correspond to a full factorial design of the</Line>
      <Line cy={648.3}>three controlled variables.<sup style={{ fontSize: 17, lineHeight: 0, verticalAlign: '10px' }}>3</sup> The pulses were designed to keep</Line>
      <Line cy={680.6}>the manipulated and measured variables within constraints,</Line>
      <Line cy={712.9}>and they were checked against historical data to ensure pro-</Line>
      <Line cy={745.2} just={false}>duction would not be negatively affected.</Line>
      <Line cy={777.5} left={684}>The process response, the model predictions of the existing</Line>
      <Line cy={809.8}>MPC model, and the model predictions for the newly identi-</Line>
      <Line cy={842.1}>fied model are shown in Figure 2. Each process variable was</Line>
      <Line cy={874.4}>shifted and scaled to anonymize the data. Over the series</Line>
      <Line cy={906.7}>of changes to the MPC setpoints, the temperature <i>T</i> and the</Line>
      <Line cy={939}>methanol flow rate <i>F</i><sub style={{ fontSize: 17, lineHeight: 0, verticalAlign: '-5px' }}>1</sub> consistently failed to reach their targets</Line>
    </div>
  );
}
